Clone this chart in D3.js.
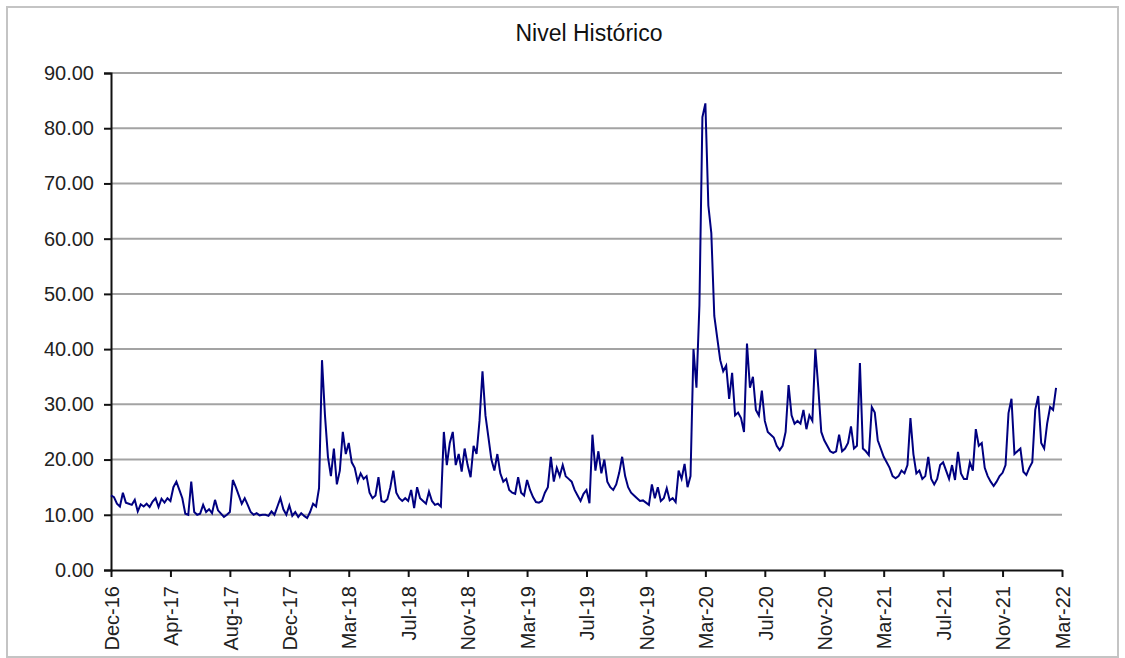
<!DOCTYPE html>
<html>
<head>
<meta charset="utf-8">
<script src="https://cdn.jsdelivr.net/npm/d3@7"></script>
<style>
  html, body { margin: 0; padding: 0; background: #fff; }
  svg { display: block; font-family: "Liberation Sans", Arial, sans-serif; }
</style>
</head>
<body>
<svg id="chart" width="1125" height="658"></svg>
<script>
// ---- Data ----
const title = "Nivel Histórico";
const tickLabels = ["Dec-16","Apr-17","Aug-17","Dec-17","Mar-18","Jul-18","Nov-18","Mar-19",
  "Jul-19","Nov-19","Mar-20","Jul-20","Nov-20","Mar-21","Jul-21","Nov-21","Mar-22"];
const pointsPerTick = 20;
const yTicks = [0,10,20,30,40,50,60,70,80,90];

// sampled values, 20 per label interval
const seg01 = [13.5,13.2,12.0,11.5,14.0,12.2,12.0,11.8,12.7,10.6,11.9,11.5,12.0,11.4,12.4,13.0,11.4,12.9,12.2,13.0];
const seg02 = [12.5,15.0,16.0,14.5,13.0,10.2,10.0,16.0,10.5,10.0,10.2,11.8,10.5,11.0,10.3,12.7,10.8,10.2,9.6,10.0];
const seg03 = [10.5,16.3,15.0,13.5,12.0,13.0,11.8,10.5,10.0,10.3,9.9,10.0,10.0,9.8,10.6,10.0,11.5,13.0,11.0,10.0];
const seg04 = [11.7,9.8,10.5,9.6,10.3,9.8,9.4,10.5,12.0,11.5,14.8,38.0,28.0,20.5,17.0,22.0,15.5,18.0,25.0,21.0];
const seg05 = [23.0,19.5,18.5,16.0,17.5,16.5,17.0,14.0,13.0,13.5,16.8,12.5,12.3,12.8,15.0,18.0,14.0,13.0,12.5,13.0];
const seg06 = [12.5,14.5,11.2,15.0,13.0,12.5,12.0,14.2,12.5,11.8,12.0,11.5,25.0,19.0,23.0,25.0,19.0,21.0,17.8,22.0];
const seg07 = [19.0,16.8,22.5,21.0,27.0,36.0,28.0,24.0,20.0,18.0,21.0,17.5,16.0,16.5,14.5,14.0,13.8,16.8,14.0,13.5];
const seg08 = [16.3,14.5,13.2,12.3,12.2,12.5,14.0,15.0,20.5,16.0,18.5,17.0,19.0,17.0,16.5,16.0,14.5,13.5,12.5,13.8];
const seg09 = [14.5,12.1,24.5,18.0,21.5,17.5,20.0,16.0,15.0,14.5,15.5,17.6,20.5,17.0,15.0,14.0,13.5,13.0,12.5,12.6];
const seg10 = [12.2,11.8,15.5,13.0,15.0,12.5,13.0,14.8,12.6,13.0,12.3,18.0,16.5,19.2,15.0,17.0,40.0,33.0,48.0,82.0];
const seg11 = [84.5,66.0,61.0,46.0,42.0,38.0,36.0,37.0,31.0,35.7,28.0,28.5,27.5,25.0,41.0,33.0,35.0,29.0,28.0,32.5];
const seg12 = [27.0,25.0,24.5,24.0,22.5,21.7,22.5,25.0,33.5,28.0,26.5,27.0,26.5,29.0,25.5,28.0,27.0,40.0,33.0,25.0];
const seg13 = [23.5,22.5,21.5,21.2,21.5,24.5,21.5,22.0,23.0,26.0,22.0,22.5,37.5,22.0,21.5,20.8,29.5,28.5,23.5,22.0];
const seg14 = [20.5,19.5,18.5,17.0,16.6,17.0,18.0,17.5,19.0,27.5,21.0,17.5,18.0,16.5,17.0,20.5,16.5,15.5,16.5,19.0];
const seg15 = [19.5,18.0,16.5,19.0,16.3,21.4,17.5,16.5,16.5,19.5,18.0,25.5,22.5,23.0,18.5,17.0,16.0,15.2,16.0,17.0];
const seg16 = [17.6,19.0,28.4,31.0,21.0,21.5,22.0,17.8,17.2,18.5,19.5,29.0,31.5,23.0,22.0,26.5,29.5,29.0,33.0];

const values = [].concat(seg01,seg02,seg03,seg04,seg05,seg06,seg07,seg08,
  seg09,seg10,seg11,seg12,seg13,seg14,seg15,seg16);

// ---- Drawing ----
const svg = d3.select("#chart");
const m = {left: 111, right: 1062, top: 73, bottom: 570};

svg.append("rect").attr("x", 7).attr("y", 7).attr("width", 1111).attr("height", 650)
  .attr("fill", "#fff").attr("stroke", "#c4c4c4").attr("stroke-width", 2);

const nIntervals = tickLabels.length - 1;
const x = d3.scaleLinear().domain([0, nIntervals * pointsPerTick]).range([m.left, m.right]);
const y = d3.scaleLinear().domain([0, 90]).range([m.bottom, m.top]);

// gridlines
svg.append("g").selectAll("line").data(yTicks.filter(d => d > 0)).join("line")
  .attr("x1", m.left).attr("x2", m.right)
  .attr("y1", d => y(d)).attr("y2", d => y(d))
  .attr("stroke", "#a3a3a3").attr("stroke-width", 2);

// y axis
const yAxis = d3.axisLeft(y).tickValues(yTicks).tickFormat(d3.format(".2f")).tickSize(7).tickPadding(10);
const gy = svg.append("g").attr("transform", `translate(${m.left},0)`).call(yAxis);
gy.select(".domain").attr("stroke", "#111").attr("stroke-width", 2);
gy.selectAll(".tick line").attr("stroke", "#111").attr("stroke-width", 2);
gy.selectAll(".tick text").attr("font-size", 20).attr("fill", "#222")
  .attr("font-family", "'Liberation Sans', Arial, sans-serif");

// x axis
const xTickVals = tickLabels.map((d, i) => i * pointsPerTick);
const xAxis = d3.axisBottom(x).tickValues(xTickVals).tickFormat((d, i) => tickLabels[i]).tickSize(7).tickSizeOuter(0);
const gx = svg.append("g").attr("transform", `translate(0,${m.bottom})`).call(xAxis);
gx.select(".domain").attr("stroke", "#111").attr("stroke-width", 2);
gx.selectAll(".tick line").attr("stroke", "#111").attr("stroke-width", 2);
gx.selectAll(".tick text")
  .attr("font-size", 20).attr("fill", "#222")
  .attr("font-family", "'Liberation Sans', Arial, sans-serif")
  .attr("text-anchor", "end")
  .attr("transform", "translate(0,16) rotate(-90)")
  .attr("x", 0).attr("y", 0).attr("dy", "0.36em");

// line
const line = d3.line().x((d, i) => x(i)).y(d => y(d));
svg.append("path").datum(values)
  .attr("d", line).attr("fill", "none")
  .attr("stroke", "#000080").attr("stroke-width", 2).attr("stroke-linejoin", "miter");

// title
svg.append("text").attr("x", 589).attr("y", 41).attr("text-anchor", "middle")
  .attr("font-size", 23).attr("fill", "#111").text(title);
</script>
</body>
</html>
